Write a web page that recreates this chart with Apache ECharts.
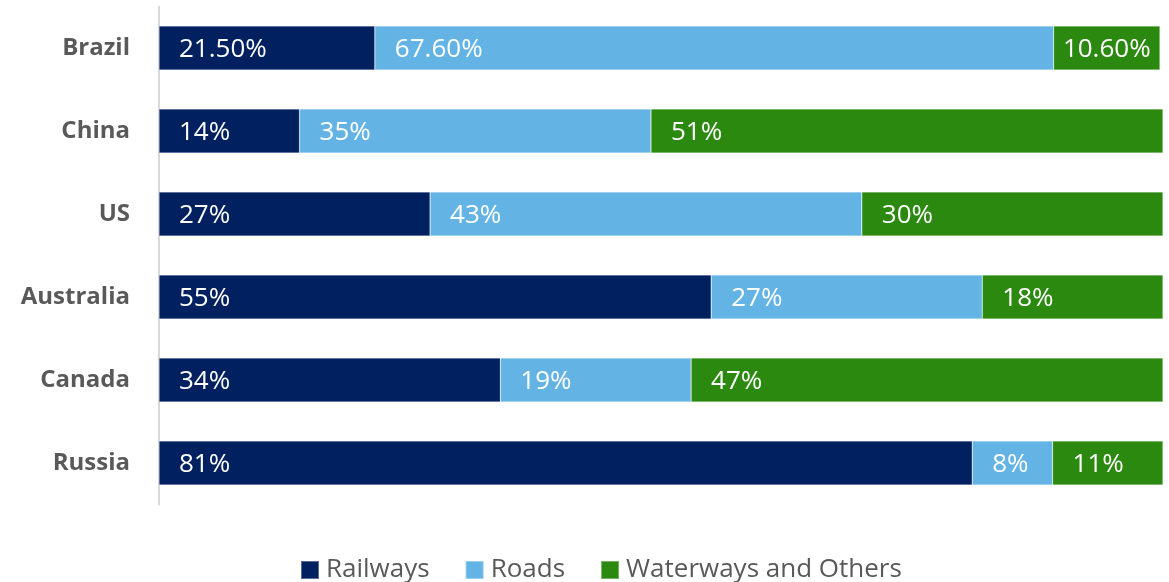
<!DOCTYPE html>
<html>
<head>
<meta charset="utf-8">
<script src="https://cdn.jsdelivr.net/npm/echarts@6/dist/echarts.min.js"></script>
<style>
  html, body { margin: 0; padding: 0; background: #ffffff; }
  #chart { width: 1169px; height: 582px; }
</style>
</head>
<body>
<div id="chart"></div>
<script>
// Freight transport mode share by country (percent)
const countries = ['Brazil', 'China', 'US', 'Australia', 'Canada', 'Russia'];
const railways = [21.5, 14, 27, 55, 34, 81];
const roads = [67.6, 35, 43, 27, 19, 8];
const waterways = [10.6, 51, 30, 18, 47, 11];
// decimals shown in each country's labels
const labelDecimals = [2, 0, 0, 0, 0, 0];

const seriesNames = ['Railways', 'Roads', 'Waterways and Others'];
const seriesColors = ['#002060', '#63b4e4', '#2a890e'];
const seriesData = [railways, roads, waterways];

const FONT = '"Open Sans", "Noto Sans", sans-serif';
const LABEL_SIZE = 26;
const GRID = { left: 159, right: 6, top: 6.5, bottom: 77.5 };
const PLOT_W = 1169 - GRID.left - GRID.right;

// measure label text so a label that would not fit with the usual
// left padding is pulled closer to the segment start
const measureCtx = document.createElement('canvas').getContext('2d');
measureCtx.font = LABEL_SIZE + 'px "Open Sans"';
const fmt = (v, i) => v.toFixed(labelDecimals[i]) + '%';

function buildData(values) {
  return values.map((v, i) => {
    const barW = v / 100 * PLOT_W;
    const textW = measureCtx.measureText(fmt(v, i)).width;
    const dist = Math.max(2, Math.min(20, (barW - textW) / 2));
    return { value: v, label: { distance: dist } };
  });
}

const chart = echarts.init(document.getElementById('chart'), null, { renderer: 'canvas' });

const option = {
  animation: false,
  backgroundColor: '#ffffff',
  grid: Object.assign({ containLabel: false }, GRID),
  xAxis: {
    type: 'value', min: 0, max: 100,
    show: false
  },
  yAxis: {
    type: 'category',
    data: countries,
    inverse: true,
    axisLine: { show: true, lineStyle: { color: '#d9d9d9', width: 2 } },
    axisTick: { show: false },
    axisLabel: {
      margin: 29,
      color: '#595959',
      fontFamily: FONT,
      fontWeight: 'bold',
      fontSize: 24
    }
  },
  legend: {
    top: 557,
    left: 300,
    padding: 0,
    itemWidth: 18,
    itemHeight: 18,
    itemGap: 35,
    icon: 'rect',
    textStyle: { color: '#595959', fontFamily: FONT, fontSize: 26, padding: [0, 0, 0, 2] },
    data: seriesNames
  },
  series: seriesNames.map((name, s) => ({
    name,
    type: 'bar',
    stack: 'total',
    barWidth: 44,
    itemStyle: { color: seriesColors[s], borderColor: 'rgba(255,255,255,0.35)', borderWidth: 0.6 },
    label: {
      show: true,
      position: 'insideLeft',
      distance: 20,
      offset: [0, 2],
      color: '#ffffff',
      fontFamily: FONT,
      fontSize: LABEL_SIZE,
      formatter: p => fmt(p.value, p.dataIndex)
    },
    data: buildData(seriesData[s])
  }))
};

chart.setOption(option);
</script>
</body>
</html>
